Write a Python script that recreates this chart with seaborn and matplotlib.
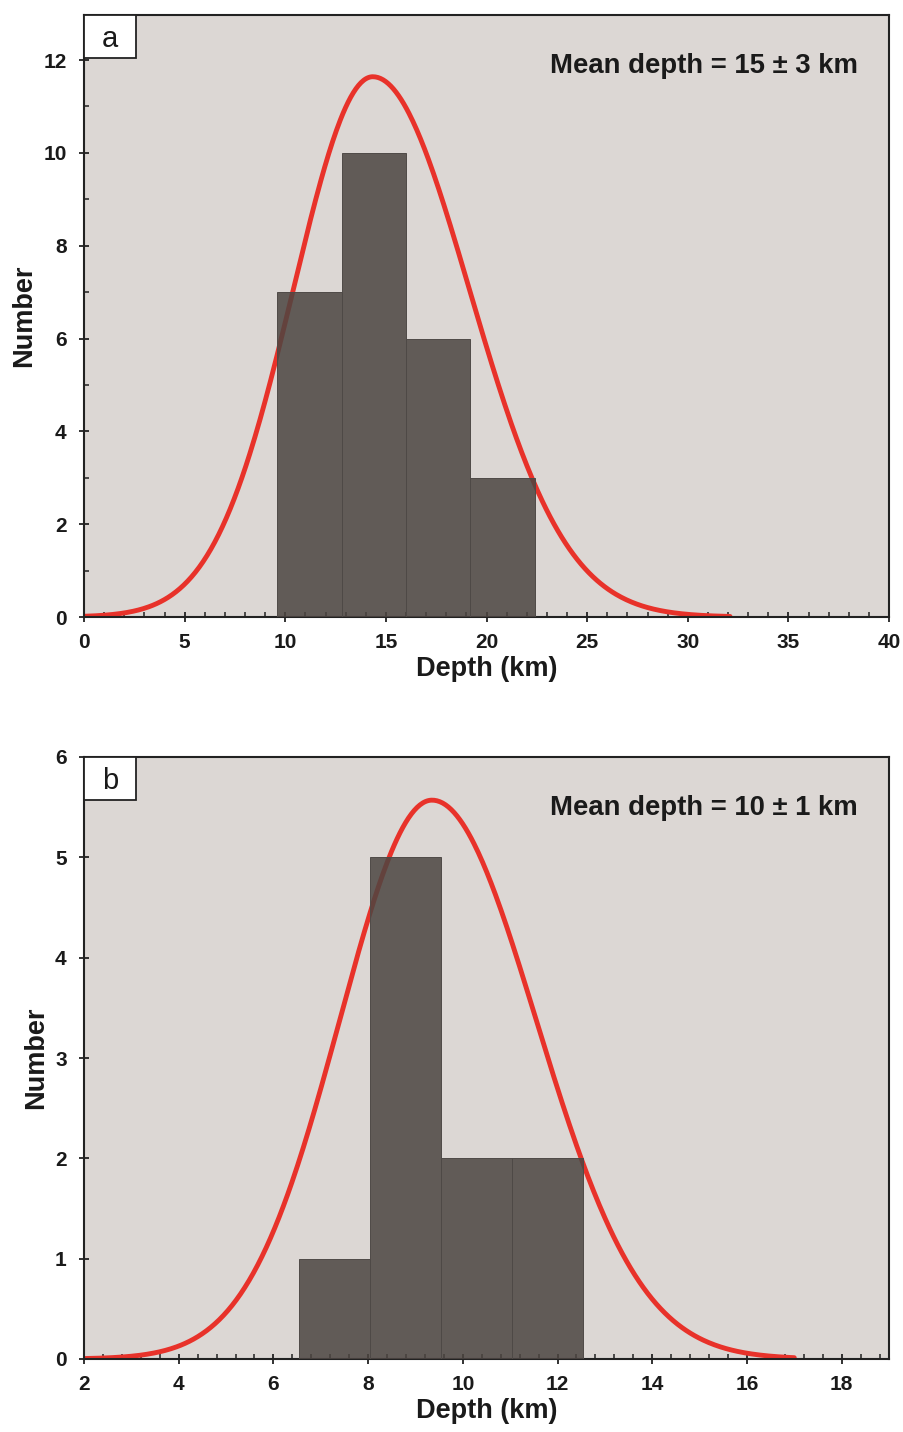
import numpy as np
import pandas as pd
import matplotlib
matplotlib.use("Agg")
import matplotlib.pyplot as plt
from matplotlib.patches import Rectangle
from matplotlib.ticker import MultipleLocator
import seaborn as sns

# ---- data ----
edges_a = [9.6, 12.8, 16.0, 19.2, 22.4]
counts_a = [7, 10, 6, 3]
fit_a = {"mean": 14.35, "sigma_left": 3.95, "sigma_right": 4.8, "peak": 11.64,
         "xmin": 0.0, "xmax": 32.1}
label_a = "a"
text_a = "Mean depth = 15 \u00b1 3 km"

edges_b = [6.53, 8.03, 9.53, 11.03, 12.53]
counts_b = [1, 5, 2, 2]
fit_b = {"mean": 9.35, "sigma_left": 1.95, "sigma_right": 2.2, "peak": 5.57,
         "xmin": 2.0, "xmax": 17.0}
label_b = "b"
text_b = "Mean depth = 10 \u00b1 1 km"

sns.set_theme(style="ticks")
plt.rcParams["font.family"] = ["Liberation Sans", "DejaVu Sans"]

BG = "#dcd7d4"
BAR = (76 / 255, 69 / 255, 65 / 255)
RED = "#e8322a"
INK = "#1a1a1a"

fig = plt.figure(figsize=(9.04, 14.32), dpi=100)
W, H = 904, 1432


def px_axes(left, top, right, bottom):
    return fig.add_axes([left / W, 1 - bottom / H, (right - left) / W, (bottom - top) / H])


def panel(ax, edges, counts, fit, letter, text, xlim, ylim, xmajor, xminor, ymajor, yminor):
    ax.set_facecolor(BG)
    # fitted curve (split normal, as drawn in the reference)
    xs = np.linspace(fit["xmin"], fit["xmax"], 500)
    sig = np.where(xs < fit["mean"], fit["sigma_left"], fit["sigma_right"])
    ys = fit["peak"] * np.exp(-0.5 * ((xs - fit["mean"]) / sig) ** 2)
    sns.lineplot(x=xs, y=ys, ax=ax, color=RED, linewidth=3.5, zorder=2)
    # histogram bars
    centers = [(edges[i] + edges[i + 1]) / 2 for i in range(len(counts))]
    df = pd.DataFrame({"depth": centers, "n": counts})
    sns.histplot(data=df, x="depth", weights="n", bins=edges, ax=ax,
                 color=BAR, alpha=0.85, edgecolor="#4f4a47", linewidth=0.7, zorder=3)
    ax.set_xlim(*xlim)
    ax.set_ylim(*ylim)
    ax.xaxis.set_major_locator(MultipleLocator(xmajor))
    ax.xaxis.set_minor_locator(MultipleLocator(xminor))
    ax.yaxis.set_major_locator(MultipleLocator(ymajor))
    if yminor:
        ax.yaxis.set_minor_locator(MultipleLocator(yminor))
    ax.tick_params(which="major", direction="inout", length=7, width=1.3, color="#222222",
                   labelsize=15)
    ax.tick_params(which="minor", direction="in", length=3.5, width=1.1, color="#222222")
    ax.tick_params(axis="x", which="major", pad=8)
    ax.tick_params(axis="y", which="major", pad=9)
    for lab in ax.get_xticklabels() + ax.get_yticklabels():
        lab.set_fontweight("bold")
        lab.set_color(INK)
    for sp in ax.spines.values():
        sp.set_visible(True)
        sp.set_color("#222222")
        sp.set_linewidth(1.5)
    ax.set_xlabel("Depth (km)", fontsize=19.5, fontweight="bold", color=INK, labelpad=3)
    ax.set_ylabel("Number", fontsize=19.5, fontweight="bold", color=INK, labelpad=4.5)
    # panel letter box
    bw, bh = 52 / 805, 43 / 602
    ax.add_patch(Rectangle((0, 1 - bh), bw, bh, transform=ax.transAxes, facecolor="white",
                           edgecolor="#222222", linewidth=1.3, zorder=5, clip_on=False))
    ax.text(bw / 2, 1 - bh / 2 - 0.004, letter, transform=ax.transAxes, ha="center", va="center",
            fontsize=21, color=INK, zorder=6)
    ax.text(0.9615, 0.915, text, transform=ax.transAxes, ha="right", va="center",
            fontsize=19.8, fontweight="bold", color=INK, zorder=6)


ax_a = px_axes(84, 15, 889, 617)
panel(ax_a, edges_a, counts_a, fit_a, label_a, text_a, (0, 40), (0, 12.97), 5, 1, 2, 1)

ax_b = px_axes(84, 757, 889, 1359)
panel(ax_b, edges_b, counts_b, fit_b, label_b, text_b, (2, 19), (0, 6), 2, 0.4, 1, None)

fig.savefig("out.png", dpi=100, facecolor="white")
